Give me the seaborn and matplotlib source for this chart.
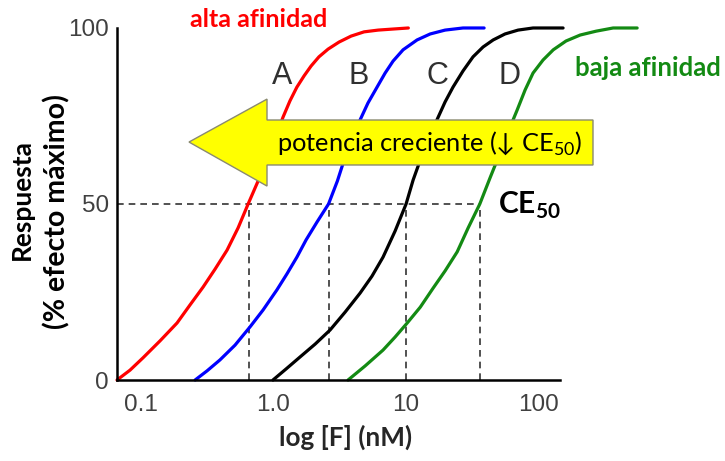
import matplotlib
matplotlib.use("Agg")
import matplotlib.pyplot as plt
from matplotlib.patches import Polygon
import pandas as pd
import seaborn as sns

# Dose-response curves: concentration (nM) vs response (% of maximal effect)
conc_a = [0.0659, 0.0826, 0.1035, 0.139, 0.187, 0.234, 0.294, 0.362, 0.446, 0.540,
          0.643, 0.764, 0.893, 1.03, 1.18, 1.33, 1.50, 1.70, 1.92, 2.20, 2.58, 3.12,
          3.85, 4.82, 6.15, 7.98, 10.4]
resp_a = [0, 2.8, 6.3, 11.1, 16.2, 21.3, 26.4, 31.5, 36.9, 43.2,
          50, 56.5, 62.5, 68.8, 74.7, 79.3, 83.2, 86.4, 89.2, 91.8, 94.0, 96.0,
          97.7, 98.9, 99.4, 99.7, 100]

conc_b = [0.256, 0.315, 0.394, 0.512, 0.665, 0.834, 1.06, 1.26, 1.50, 1.76, 2.13,
          2.6, 3.03, 3.35, 3.85, 4.50, 5.16, 6.04, 6.95, 7.98, 9.49, 12.1, 15.2,
          19.7, 26.9, 38.8]
resp_b = [0, 2.6, 5.7, 9.9, 15.1, 19.9, 25.6, 30.1, 34.9, 39.8, 44.9,
          50, 56.5, 61.6, 67.9, 73.9, 78.7, 83.2, 87.2, 90.6, 93.8, 96.6, 98.3,
          99.4, 100, 100]

conc_c = [0.99, 1.24, 1.58, 2.06, 2.67, 3.47, 4.50, 5.53, 6.70, 8.26, 10.0, 11.3,
          12.8, 14.7, 17.1, 19.7, 22.6, 26.9, 32.0, 38.1, 45.4, 55.8, 70.0, 90.8,
          118, 153]
resp_c = [0, 3.1, 6.5, 10.2, 14.2, 19.3, 24.7, 29.5, 34.9, 42.3, 50, 56.8,
          62.5, 68.5, 73.9, 79.0, 83.2, 87.8, 91.8, 94.6, 96.6, 98.3, 99.4, 100,
          100, 100]

conc_d = [3.65, 4.91, 6.70, 8.26, 10.2, 12.8, 16.0, 19.7, 24.3, 29.4, 36.0, 43.1,
          51.2, 58.9, 68.9, 79.1, 90.8, 108, 129, 161, 206, 272, 365, 554]
resp_d = [0, 4.0, 8.5, 12.2, 16.2, 20.7, 26.1, 31.0, 36.4, 43.2, 50, 57.5,
          64.5, 70.5, 76.7, 82.4, 87.2, 90.9, 93.8, 96.3, 98.0, 99.1, 100, 100]

curve_names = ["A", "B", "C", "D"]
curve_colors = ["#ff0000", "#0000ff", "#000000", "#138a13"]
ec50 = [0.65, 2.6, 10.0, 36.0]

x_ticks = [0.1, 1.0, 10, 100]
x_tick_labels = ["0.1", "1.0", "10", "100"]
y_ticks = [0, 50, 100]
y_tick_labels = ["0", "50", "100"]

frames = []
for name, xs, ys in zip(curve_names, [conc_a, conc_b, conc_c, conc_d],
                        [resp_a, resp_b, resp_c, resp_d]):
    frames.append(pd.DataFrame({"conc": xs, "resp": ys, "curve": name}))
df = pd.concat(frames, ignore_index=True)

sns.set_style("white")
plt.rcParams["font.family"] = ["Liberation Sans", "DejaVu Sans"]
plt.rcParams["mathtext.fontset"] = "custom"
plt.rcParams["mathtext.rm"] = "Lato"
plt.rcParams["mathtext.bf"] = "Lato:bold"

fig = plt.figure(figsize=(7.25, 4.61), dpi=100)
ax = fig.add_axes([0.1614, 0.1757, 0.6110, 0.7636])
ax.set_xscale("log")

sns.lineplot(data=df, x="conc", y="resp", hue="curve", palette=curve_colors,
             sort=False, estimator=None, legend=False, linewidth=2.3, ax=ax)
for ln in ax.lines:
    ln.set_clip_on(False)
    ln.set_solid_capstyle("round")
    ln.set_solid_joinstyle("round")

x_left, x_right = 0.0659, 145
ax.set_xlim(x_left, x_right)
ax.set_ylim(0, 100)

# EC50 guide lines
dash = dict(color="#333333", linewidth=1.2, linestyle=(0, (4, 3)), zorder=1)
ax.plot([x_left, ec50[-1]], [50, 50], **dash)
for v in ec50:
    ax.plot([v, v], [0, 50], **dash)

ax.set_xticks(x_ticks)
ax.set_xticklabels(x_tick_labels)
ax.set_yticks(y_ticks)
ax.set_yticklabels(y_tick_labels)
ax.minorticks_off()
ax.tick_params(axis="both", length=0, labelsize=17.5, labelcolor="#404040")
ax.tick_params(axis="x", pad=10)
ax.tick_params(axis="y", pad=6)

for side in ["top", "right"]:
    ax.spines[side].set_visible(False)
for side in ["left", "bottom"]:
    ax.spines[side].set_linewidth(1.8)
    ax.spines[side].set_color("black")

bold = dict(family=["Lato", "DejaVu Sans"], fontweight="bold")
ax.set_xlabel("log [F] (nM)", fontsize=18.8, labelpad=6, **bold)
ax.xaxis.label.set_x(0.517)
ax.set_ylabel("")

# Two-line response label
fig.text(0.0303, 0.5683, "Respuesta", rotation=90, ha="center", va="center",
         fontsize=19, color="black", **bold)
fig.text(0.0790, 0.542, "(% efecto máximo)", rotation=90, ha="center",
         va="center", fontsize=20.5, color="black", **bold)

# Curve letters
letter_pos = [(0.3725, 0.865), (0.5464, 0.865), (0.7223, 0.865), (0.8871, 0.865)]
for name, (lx, ly) in zip(curve_names, letter_pos):
    ax.text(lx, ly, name, transform=ax.transAxes, fontsize=22, color="#303030",
            ha="center", va="center")

ax.text(0.3205, 1.025, "alta afinidad", transform=ax.transAxes, fontsize=18,
        color="#ff0000", ha="center", va="center", **bold)
ax.text(1.199, 0.885, "baja afinidad", transform=ax.transAxes, fontsize=18.5,
        color="#138a13", ha="center", va="center", **bold)

# Big yellow arrow pointing toward higher potency
arrow_pts = [(0.1625, 0.676), (0.3386, 0.798), (0.3386, 0.7386), (1.0745, 0.7386),
             (1.0745, 0.6108), (0.3386, 0.6108), (0.3386, 0.551)]
arrow = Polygon(arrow_pts, closed=True, transform=ax.transAxes, facecolor="#ffff00",
                edgecolor="#8a8a70", linewidth=1.0, zorder=5, clip_on=False)
ax.add_patch(arrow)
ax.text(0.7065, 0.673, "potencia creciente (\u2193 CE$_{\\mathrm{50}}$)",
        transform=ax.transAxes, fontsize=18.3, color="black", ha="center",
        va="center", zorder=6, family=["Lato", "DejaVu Sans"])

ax.text(0.860, 0.495, "$\\mathbf{CE}_{\\mathbf{50}}$", transform=ax.transAxes,
        fontsize=21.5, color="black", ha="left", va="center")

fig.savefig("out.png", dpi=100)
